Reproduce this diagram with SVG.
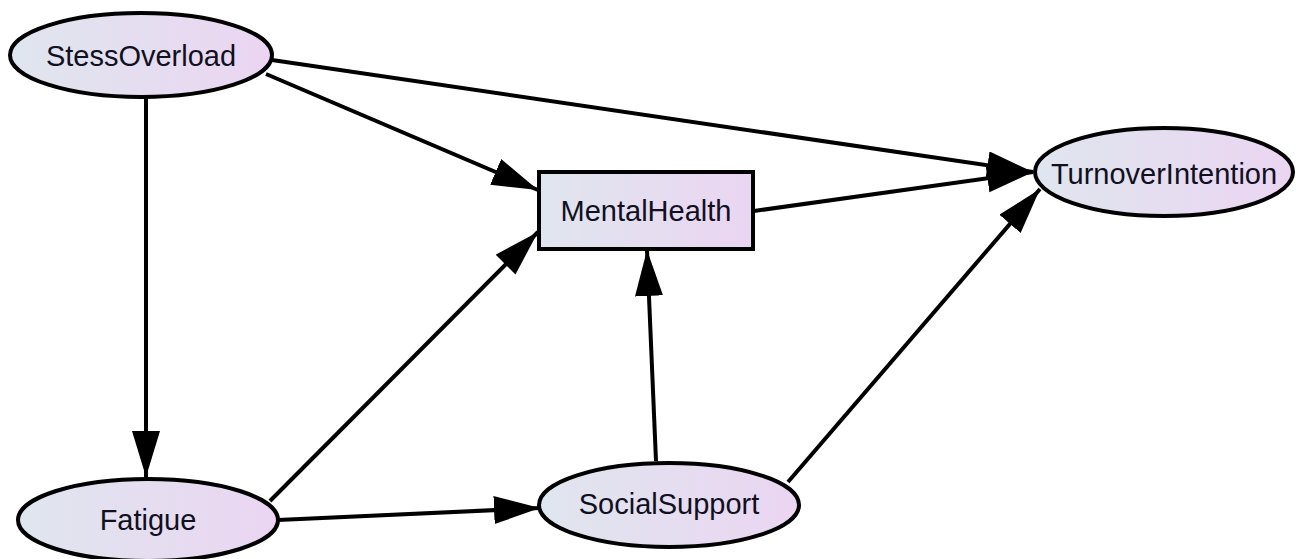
<svg xmlns="http://www.w3.org/2000/svg" width="1296" height="559" viewBox="0 0 1296 559">
<defs>
<linearGradient id="g" x1="0" y1="0" x2="1" y2="0">
<stop offset="0" stop-color="#dfe6ee"/>
<stop offset="1" stop-color="#ebd5f2"/>
</linearGradient>
<marker id="ah" markerUnits="userSpaceOnUse" markerWidth="48" markerHeight="30" refX="46" refY="14" orient="auto" viewBox="0 0 48 30">
<path d="M0,0 L46,14 L0,28 z" fill="#000"/>
</marker>
<style>
.n{fill:url(#g);stroke:#000;stroke-width:4}
.t{font-family:"Liberation Sans",Arial,sans-serif;font-size:29px;fill:#10101e;text-anchor:middle}
.e{stroke:#000;stroke-width:4;fill:none;marker-end:url(#ah)}
</style>
</defs>
<rect width="1296" height="559" fill="#fff"/>
<g id="connectors">
<line class="e" x1="146" y1="98" x2="146" y2="477"/>
<line class="e" x1="266" y1="74" x2="538" y2="190"/>
<line class="e" x1="272" y1="60" x2="1033" y2="172"/>
<line class="e" x1="754" y1="211" x2="1033" y2="172"/>
<line class="e" x1="270" y1="501" x2="538" y2="232"/>
<line class="e" x1="278" y1="520" x2="540" y2="508"/>
<line class="e" x1="656" y1="461" x2="647" y2="250"/>
<line class="e" x1="788" y1="482" x2="1040" y2="189"/>
</g>
<g id="StessOverload">
<ellipse class="n" cx="141" cy="55" rx="131" ry="42"/>
<text class="t" x="141" y="66">StessOverload</text>
</g>
<g id="MentalHealth">
<rect class="n" x="539" y="172" width="214" height="77"/>
<text class="t" x="646" y="221">MentalHealth</text>
</g>
<g id="TurnoverIntention">
<ellipse class="n" cx="1164" cy="172" rx="129" ry="44"/>
<text class="t" x="1164" y="184">TurnoverIntention</text>
</g>
<g id="Fatigue">
<ellipse class="n" cx="148" cy="520" rx="130" ry="41"/>
<text class="t" x="148" y="530">Fatigue</text>
</g>
<g id="SocialSupport">
<ellipse class="n" cx="669" cy="505" rx="130" ry="42"/>
<text class="t" x="669" y="514">SocialSupport</text>
</g>
</svg>
